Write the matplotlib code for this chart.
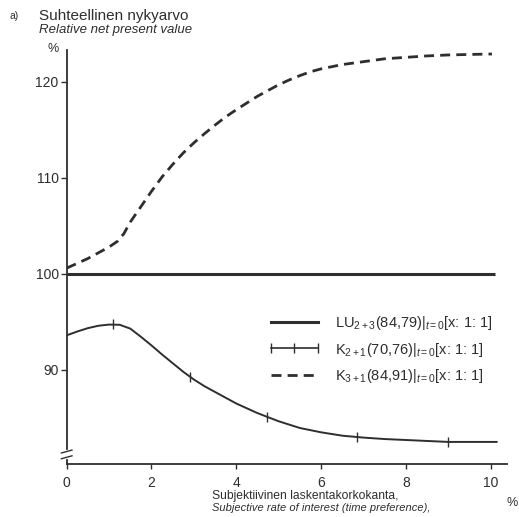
import numpy as np
import matplotlib
matplotlib.use("Agg")
import matplotlib.pyplot as plt
from matplotlib.lines import Line2D

plt.rcParams['font.family'] = ['Liberation Sans', 'DejaVu Sans']
plt.rcParams['mathtext.fontset'] = 'custom'
plt.rcParams['mathtext.rm'] = 'Liberation Sans'
plt.rcParams['mathtext.it'] = 'Liberation Sans:italic'

INK = '#2e2e2e'

# LU 2+3 : flat reference line
lu_x = [0.0, 10.1]
lu_y = [100.0, 100.0]

# K 2+1
k21_x = [0.0, 0.25, 0.5, 0.75, 1.0, 1.25, 1.5, 1.75, 2.0, 2.25, 2.5, 2.75, 3.0,
         3.25, 3.5, 3.75, 4.0, 4.5, 5.0, 5.5, 6.0, 6.5, 7.0, 7.5, 8.0, 8.5, 9.0,
         9.5, 10.14]
k21_y = [93.6, 94.0, 94.35, 94.6, 94.72, 94.7, 94.3, 93.45, 92.55, 91.6, 90.7,
         89.8, 89.0, 88.3, 87.7, 87.1, 86.5, 85.5, 84.65, 83.95, 83.5, 83.15,
         82.95, 82.8, 82.7, 82.6, 82.5, 82.5, 82.5]
k21_tick_x = [1.1, 2.91, 4.72, 6.84, 9.0]
k21_tick_y = [94.75, 89.3, 85.1, 83.0, 82.5]

# K 3+1
k31_x = [0.0, 0.25, 0.5, 0.75, 1.0, 1.2, 1.35, 1.5, 1.75, 2.0, 2.25, 2.5, 2.75,
         3.0, 3.25, 3.5, 3.75, 4.0, 4.25, 4.5, 4.75, 5.0, 5.25, 5.5, 5.75, 6.0,
         6.5, 7.0, 7.5, 8.0, 8.5, 9.0, 9.5, 10.03]
k31_y = [100.6, 101.1, 101.6, 102.2, 102.8, 103.4, 104.2, 105.4, 107.0, 108.6,
         110.1, 111.4, 112.6, 113.65, 114.6, 115.5, 116.35, 117.1, 117.8, 118.5,
         119.1, 119.7, 120.2, 120.65, 121.05, 121.35, 121.8, 122.1, 122.4,
         122.55, 122.7, 122.8, 122.85, 122.9]

labels = [r"LU$_{2+3}$(84,79)$|_{t=0}$[x: 1: 1]",
          r"K$_{2+1}$(70,76)$|_{t=0}$[x: 1: 1]",
          r"K$_{3+1}$(84,91)$|_{t=0}$[x: 1: 1]"]

xticks = [0, 2, 4, 6, 8, 10]
yticks = [90, 100, 110, 120]

fig = plt.figure(figsize=(5.19, 5.17), dpi=100)
ax = fig.add_axes([0.1285, 0.1025, 0.848, 0.8005])

ax.plot(lu_x, lu_y, color=INK, lw=2.2, solid_capstyle='butt')
ax.plot(k21_x, k21_y, color=INK, lw=1.4)
ax.plot(k21_tick_x, k21_tick_y, ls='none', marker='|', ms=7, mew=1.0, color=INK)
ax.plot(k31_x, k31_y, color=INK, lw=2.0, dashes=(3.6, 2.2))

ax.set_xlim(0, 10.38)
ax.set_ylim(80.2, 123.3)
ax.set_xticks(xticks)
ax.set_yticks(yticks)
for s in ['top', 'right']:
    ax.spines[s].set_visible(False)
for s in ['left', 'bottom']:
    ax.spines[s].set_color(INK)
    ax.spines[s].set_linewidth(1.3)
ax.tick_params(axis='x', length=3.6, width=1.0, pad=5, labelsize=10, colors=INK)
ax.tick_params(axis='y', length=4.3, width=1.0, pad=1.5, labelsize=10, colors=INK)

# axis break on the y axis
brk_y = 81.2
ax.plot([0, 0], [brk_y - 0.25, brk_y + 0.25], color='white', lw=3, transform=ax.get_yaxis_transform(),
        clip_on=False, zorder=5)
for dy in (-0.3, 0.3):
    ax.plot([-0.012, 0.012], [brk_y + dy - 0.15, brk_y + dy + 0.15], color=INK, lw=1.0,
            transform=ax.get_yaxis_transform(), clip_on=False, zorder=6)

handles = [Line2D([], [], color=INK, lw=2.2),
           Line2D([], [], color=INK, lw=1.2, marker='|', ms=7, mew=1.0),
           Line2D([], [], color=INK, lw=2.0, dashes=(3.6, 2.2))]
fig.legend(handles, labels, loc='upper left', bbox_to_anchor=(0.514, 0.393),
           frameon=False, fontsize=10.5, handlelength=3.8, handletextpad=0.85,
           labelspacing=0.6, borderpad=0, borderaxespad=0, numpoints=3,
           labelcolor=INK)

fig.text(0.019, 0.969, "a)", fontsize=7.5, color=INK, va='center')
fig.text(0.075, 0.969, "Suhteellinen nykyarvo", fontsize=11, color=INK, va='center')
fig.text(0.075, 0.942, "Relative net present value", fontsize=9.5, style='italic',
         color=INK, va='center')
fig.text(0.102, 0.905, "%", fontsize=9, color=INK, ha='center', va='center')
fig.text(0.408, 0.041, "Subjektiivinen laskentakorkokanta,", fontsize=8.7, color=INK, va='center')
fig.text(0.408, 0.017, "Subjective rate of interest (time preference),", fontsize=8,
         style='italic', color=INK, va='center')
fig.text(0.986, 0.027, "%", fontsize=9, color=INK, ha='center', va='center')

fig.savefig("out.png", dpi=100)
